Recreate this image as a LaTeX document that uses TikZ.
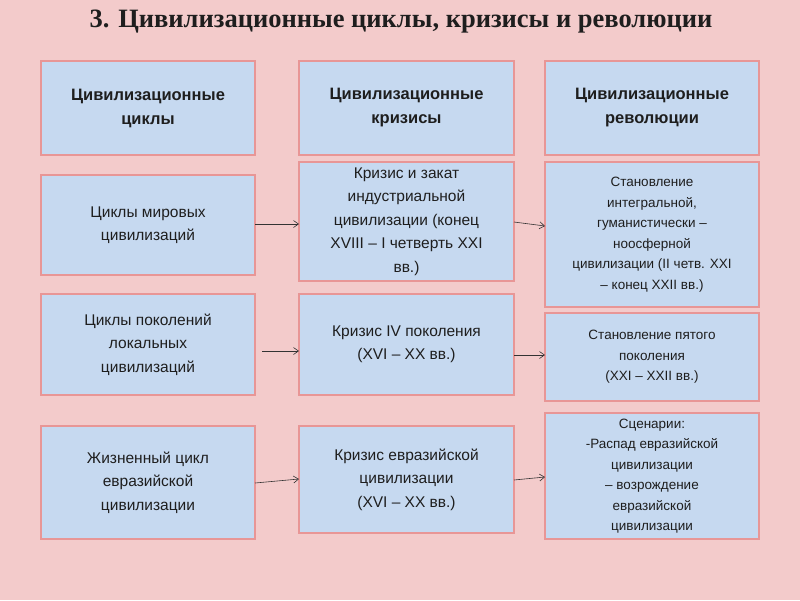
\documentclass[tikz,border=0pt]{standalone}
\usepackage{fontspec}
\usetikzlibrary{arrows.meta}
\setmainfont{Liberation Sans}
\newfontfamily\titlefont{Liberation Serif}
\definecolor{bgc}{RGB}{243,203,203}
\definecolor{boxc}{RGB}{198,217,240}
\definecolor{edgec}{RGB}{232,150,150}
\definecolor{txt}{RGB}{30,30,30}
\begin{document}
\begin{tikzpicture}[x=1pt,y=-1pt,
  bx/.style={inner sep=0pt,text=txt,align=center,font=\fontsize{15.5}{23.5}\selectfont},
  hd/.style={bx,font=\bfseries\fontsize{16.5}{24}\selectfont},
  sm/.style={bx,font=\fontsize{13.5}{20.5}\selectfont},
  ar/.style={-{Straight Barb[length=5pt,width=7pt]},black!80,line width=0.6pt}]
\fill[bgc] (0,0) rectangle (800,600);
\useasboundingbox (0,0) rectangle (800,600);
\node[font=\titlefont\bfseries\fontsize{26.5}{30}\selectfont,text=txt] (t) at (401,22) {3. Цивилизационные циклы, кризисы и революции};
\def\mk#1#2#3#4#5#6#7{\draw[draw=edgec,line width=2pt,fill=boxc] (#3,#4) rectangle (#5,#6);
 \node[#2] (#1) at ({(#3+#5)/2},{(#4+#6)/2}) {#7};
 \coordinate (#1w) at (#3,{(#4+#6)/2}); \coordinate (#1e) at (#5,{(#4+#6)/2});}
\mk{h1}{hd}{41}{61}{255}{155}{Цивилизационные\\циклы}
\mk{h2}{hd}{299}{61}{514}{155}{Цивилизационные\\кризисы}
\mk{h3}{hd}{545}{61}{759}{155}{Цивилизационные\\революции}
\mk{a1}{bx}{41}{175}{255}{275}{Циклы мировых\\цивилизаций}
\mk{a2}{bx}{299}{162}{514}{281}{Кризис и закат\\индустриальной\\цивилизации (конец\\XVIII – I четверть XXI\\вв.)}
\mk{a3}{sm}{545}{162}{759}{307}{Становление\\интегральной,\\гуманистически –\\ноосферной\\цивилизации (II четв. XXI\\– конец XXII вв.)}
\mk{b1}{bx}{41}{294}{255}{395}{Циклы поколений\\локальных\\цивилизаций}
\mk{b2}{bx}{299}{294}{514}{395}{Кризис IV поколения\\(XVI – XX вв.)}
\mk{b3}{sm}{545}{313}{759}{401}{Становление пятого\\поколения\\(XXI – XXII вв.)}
\mk{c1}{bx}{41}{426}{255}{539}{Жизненный цикл\\евразийской\\цивилизации}
\mk{c2}{bx}{299}{426}{514}{533}{Кризис евразийской\\цивилизации\\(XVI – XX вв.)}
\mk{c3}{sm}{545}{413}{759}{539}{Сценарии:\\-Распад евразийской\\цивилизации\\-- возрождение\\евразийской\\цивилизации}
\draw[ar] ([shift={(0,-1)}]a1e) -- ([shift={(0,2.5)}]a2w);
\draw[ar] ([shift={(0,0.5)}]a2e) -- ([shift={(0,-8.5)}]a3w);
\draw[ar] ([shift={(7,6.5)}]b1e) -- ([shift={(0,6.5)}]b2w);
\draw[ar] ([shift={(0,10.5)}]b2e) -- ([shift={(0,-2)}]b3w);
\draw[ar] ([shift={(0,0.5)}]c1e) -- ([shift={(0,-0.5)}]c2w);
\draw[ar] ([shift={(0,0.5)}]c2e) -- ([shift={(0,1)}]c3w);
\end{tikzpicture}
\end{document}
